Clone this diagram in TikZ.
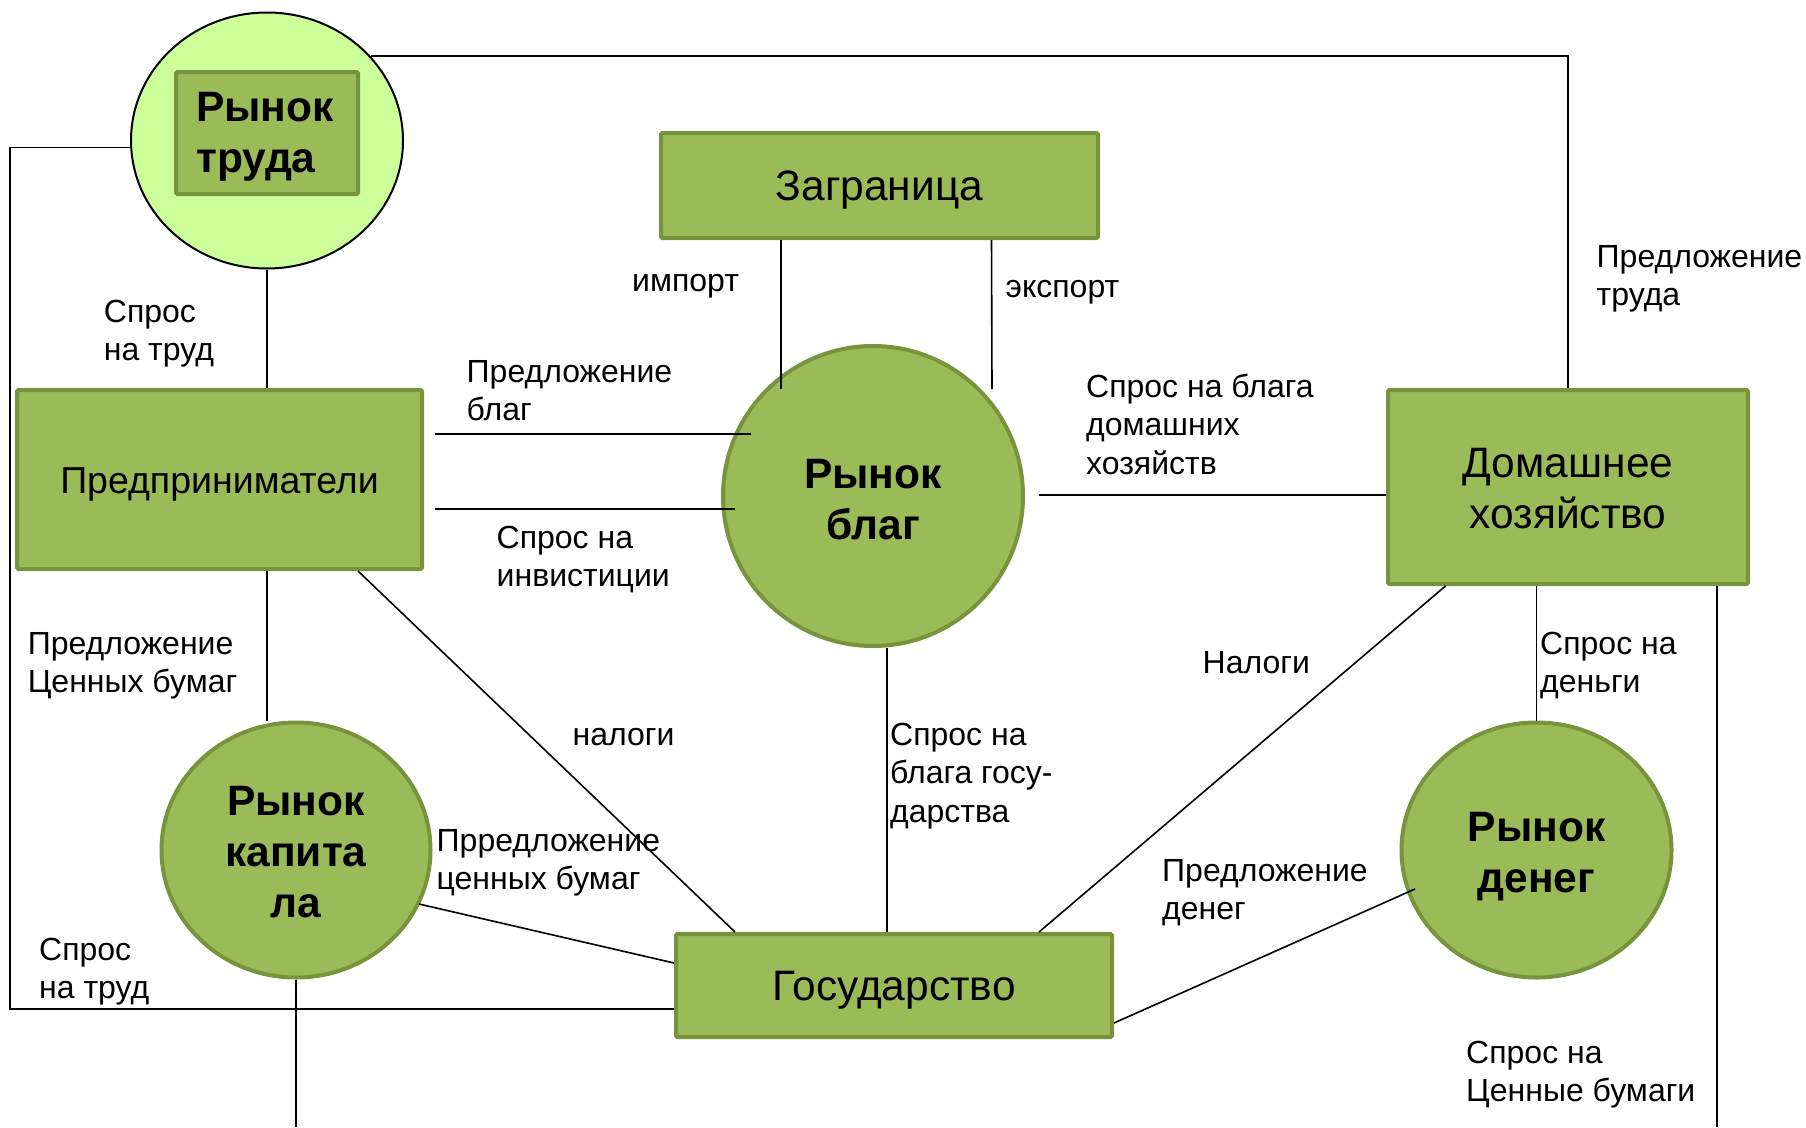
\documentclass[tikz,border=0pt]{standalone}
\usepackage{fontspec}
\setmainfont{Liberation Sans}
\usetikzlibrary{shapes.geometric,calc}
\definecolor{gfill}{HTML}{9BBB59}
\definecolor{gline}{HTML}{77933C}
\definecolor{lfill}{HTML}{CCFF99}
\begin{document}
\begin{tikzpicture}[x=1pt,y=-1pt,
  box/.style={draw=gline,fill=gfill,line width=4pt,rounded corners=1.5pt,inner sep=0pt},
  mkt/.style={ellipse,draw=gline,fill=gfill,line width=4pt,inner sep=0pt},
  boxtxt/.style={font=\fontsize{42.5}{51.5}\selectfont,align=center,inner sep=0pt,yshift=-5pt},
  mkttxt/.style={font=\fontsize{42.5}{51}\selectfont\bfseries,align=center,inner sep=0pt,yshift=-4pt},
  lbl/.style={anchor=base west,inner sep=0pt,font=\fontsize{32}{38.5}\selectfont,align=left},
  conn/.style={line width=1.6pt}]
\useasboundingbox[fill=white] (0,0) rectangle (1806,1127);

% shapes
\node[ellipse,draw=black,fill=lfill,line width=2pt,minimum width=272pt,minimum height=256pt] (lab) at (267,140.5) {};
\node[box,minimum width=182pt,minimum height=122pt] (labt) at (267,133) {};
\node[anchor=base west,inner sep=0pt,align=left,font=\fontsize{42.5}{51}\selectfont\bfseries] (labtxt) at (196,172) {Рынок\\труда};
\node[box,minimum width=437pt,minimum height=105pt,label={[boxtxt]center:Заграница}] (zag) at (879.5,185.5) {};
\node[box,minimum width=405pt,minimum height=179pt,label={[boxtxt,font=\fontsize{37.5}{46}\selectfont]center:Предприниматели}] (pred) at (219.5,479.5) {};
\node[box,minimum width=360pt,minimum height=194pt,label={[boxtxt,yshift=3.5pt]center:Домашнее\\хозяйство}] (dom) at (1568,487) {};
\node[box,minimum width=436pt,minimum height=103pt,label={[boxtxt]center:Государство}] (gos) at (894,985.5) {};
\node[mkt,minimum width=300pt,minimum height=300pt,label={[mkttxt]center:Рынок\\благ}] (blag) at (873,496) {};
\node[mkt,minimum width=269pt,minimum height=255pt,label={[mkttxt,yshift=1.5pt]center:Рынок\\капита\\ла}] (kap) at (296,850) {};
\node[mkt,minimum width=270pt,minimum height=255pt,label={[mkttxt,yshift=-3pt]center:Рынок\\денег}] (den) at (1536.5,850) {};

% free ends
\coordinate (bottomK) at (296,1127);
\coordinate (bottomD) at (1717,1127);
\coordinate (leftX) at (10,147.5);

% connectors
\draw[conn] ($(lab.center)+(104,-84.5)$) -| (dom.north);
\draw[conn] ($(lab.west)+(0,7)$) -- (leftX) |- ($(gos.west)+(0,23.5)$);
\draw[conn] (lab.south) -- (pred.north -| lab.south);
\draw[conn] ($(zag.south)+(-98.5,0)$) -- ($(blag.center)+(-92,-107)$);
\draw[conn] ($(zag.south)+(112,0)$) -- ($(blag.center)+(119,-107)$);
\draw[conn] ($(pred.east)+(11,-45.5)$) -- ($(blag.center)+(-122,-62)$);
\draw[conn] ($(pred.east)+(11,29.5)$) -- ($(blag.center)+(-138,13)$);
\draw[conn] ($(blag.east)+(14,-1)$) -- ($(dom.west)+(0,8)$);
\draw[conn] (pred.south -| lab.south) -- (kap.north -| lab.south);
\draw[conn] ($(pred.south)+(138.5,0)$) -- ($(gos.north)+(-159,0)$);
\draw[conn] ($(blag.south)+(14,0)$) -- ($(gos.north)+(-7,0)$);
\draw[conn] ($(dom.south)+(-122.5,0)$) -- ($(gos.north)+(145,0)$);
\draw[conn] ($(dom.south)+(-31.5,0)$) -- (den.north);
\draw[conn] ($(dom.south)+(149,0)$) -- (bottomD);
\draw[conn] ($(kap.center)+(123,54)$) -- ($(gos.west)+(0,-22.5)$);
\draw[conn] (kap.south) -- (bottomK);
\draw[conn] ($(den.center)+(-121.5,39)$) -- ($(gos.east)+(0,37.5)$);

% labels (anchor = baseline of the last line)
\node[lbl] (l1) at (103.7,360.5) {Спрос\\на труд};
\node[lbl] (l2) at (466.5,420.5) {Предложение\\благ};
\node[lbl] (l3) at (496.5,586.5) {Спрос на\\инвистиции};
\node[lbl] (l4) at (632,291) {импорт};
\node[lbl] (l5) at (1005.5,297) {экспорт};
\node[lbl] (l6) at (1086,474) {Спрос на блага\\домашних\\хозяйств};
\node[lbl] (l7) at (1596.5,305.5) {Предложение\\труда};
\node[lbl] (l8) at (27.6,692.5) {Предложение\\Ценных бумаг};
\node[lbl] (l9) at (572.5,745) {налоги};
\node[lbl] (l10) at (890,822) {Спрос на\\блага госу-\\дарства};
\node[lbl] (l11) at (1202.5,673) {Налоги};
\node[lbl] (l12) at (1540,692.5) {Спрос на\\деньги};
\node[lbl] (l13) at (436.5,889.5) {Прредложение\\ценных бумаг};
\node[lbl] (l14) at (1162,919.5) {Предложение\\денег};
\node[lbl] (l15) at (39,998.5) {Спрос\\на труд};
\node[lbl] (l16) at (1466,1101.5) {Спрос на\\Ценные бумаги};
\end{tikzpicture}
\end{document}
